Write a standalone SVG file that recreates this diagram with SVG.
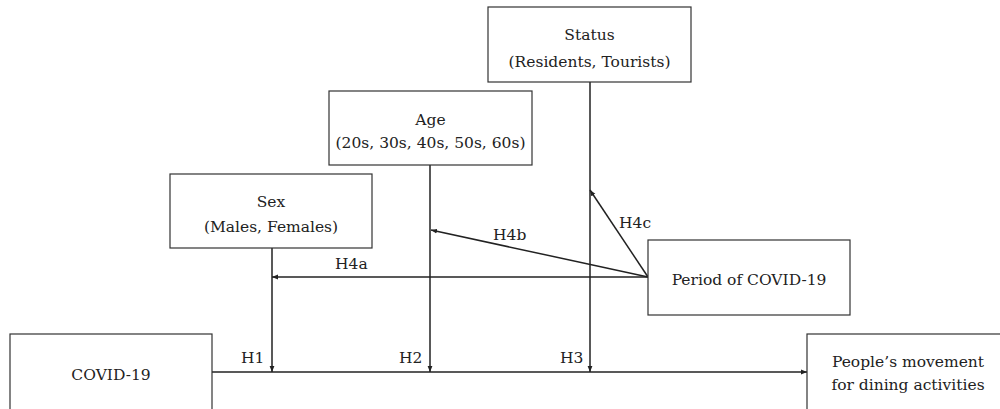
<svg xmlns="http://www.w3.org/2000/svg" width="1000" height="409" viewBox="0 0 1000 409">
<style>
.box{fill:#fff;stroke:#333;stroke-width:1.2}
text{font-family:"DejaVu Serif","Liberation Serif",serif;font-size:15.5px;fill:#222}
.t{text-anchor:middle}
.c{stroke:#222;stroke-width:1.5;fill:none}
</style>
<defs>
<marker id="ah" viewBox="0 0 10 10" refX="10" refY="5" markerWidth="6" markerHeight="6" markerUnits="userSpaceOnUse" orient="auto">
<path d="M0,1 L10,5 L0,9 z" fill="#222"/>
</marker>
</defs>
<g id="connectors">
<line class="c" x1="212" y1="372" x2="807" y2="372" marker-end="url(#ah)"/>
<line class="c" x1="272" y1="248" x2="272" y2="372" marker-end="url(#ah)"/>
<line class="c" x1="430" y1="165" x2="430" y2="372" marker-end="url(#ah)"/>
<line class="c" x1="590" y1="82" x2="590" y2="372" marker-end="url(#ah)"/>
<line class="c" x1="648" y1="277" x2="272" y2="277" marker-end="url(#ah)"/>
<line class="c" x1="648" y1="277" x2="431" y2="230" marker-end="url(#ah)"/>
<line class="c" x1="648" y1="277" x2="590" y2="190" marker-end="url(#ah)"/>
<text x="335" y="269">H4a</text>
<text x="493" y="240">H4b</text>
<text x="619" y="228">H4c</text>
<text x="241" y="363">H1</text>
<text x="399" y="363">H2</text>
<text x="560" y="363">H3</text>
</g>
<g id="status">
<rect class="box" x="488" y="7" width="203" height="75"/>
<text class="t" x="589.5" y="40">Status</text>
<text class="t" x="589.5" y="67">(Residents, Tourists)</text>
</g>
<g id="age">
<rect class="box" x="329" y="91" width="203" height="74"/>
<text class="t" x="430.5" y="125">Age</text>
<text class="t" x="430.5" y="148">(20s, 30s, 40s, 50s, 60s)</text>
</g>
<g id="sex">
<rect class="box" x="170" y="174" width="202" height="74"/>
<text class="t" x="271" y="207">Sex</text>
<text class="t" x="271" y="232">(Males, Females)</text>
</g>
<g id="period">
<rect class="box" x="648" y="240" width="202" height="75"/>
<text class="t" x="749" y="285">Period of COVID-19</text>
</g>
<g id="covid">
<rect class="box" x="10" y="334" width="202" height="80"/>
<text class="t" x="111" y="380">COVID-19</text>
</g>
<g id="movement">
<rect class="box" x="807" y="334" width="202" height="80"/>
<text class="t" x="908" y="367">People’s movement</text>
<text class="t" x="908" y="390">for dining activities</text>
</g>
</svg>
